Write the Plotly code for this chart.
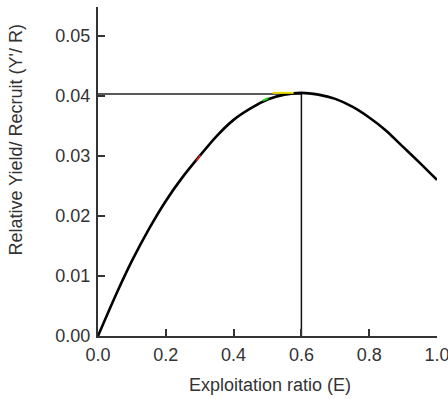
import plotly.graph_objects as go

# Data
E = [0.0, 0.05, 0.1, 0.15, 0.2, 0.25, 0.3, 0.35, 0.4, 0.45, 0.5,
     0.55, 0.6, 0.65, 0.7, 0.75, 0.8, 0.85, 0.9, 0.95, 1.0]
YR = [0.0, 0.0065, 0.0125, 0.0178, 0.0225, 0.0265, 0.0300, 0.0333, 0.0360, 0.0379, 0.0394,
      0.0402, 0.0405, 0.0402, 0.0395, 0.0382, 0.0364, 0.0342, 0.0315, 0.0288, 0.0260]

E_max = 0.6
Y_max = 0.0403

# small coloured highlight marks on the curve
red_x, red_y = [0.290, 0.302], [0.0292, 0.0301]
green_x, green_y = [0.486, 0.502], [0.0392, 0.0396]
yellow_x, yellow_y = [0.515, 0.577], [0.0405, 0.0405]

x_ticks = [0.0, 0.2, 0.4, 0.6, 0.8, 1.0]
x_tick_text = ["0.0", "0.2", "0.4", "0.6", "0.8", "1.0"]
y_ticks = [0.0, 0.01, 0.02, 0.03, 0.04, 0.05]
y_tick_text = ["0.00", "0.01", "0.02", "0.03", "0.04", "0.05"]

fig = go.Figure()

# reference lines
fig.add_trace(go.Scatter(x=[0, E_max], y=[Y_max, Y_max], mode="lines",
                         line=dict(color="#222222", width=1.5), hoverinfo="skip"))
fig.add_trace(go.Scatter(x=[E_max, E_max], y=[0, Y_max], mode="lines",
                         line=dict(color="#111111", width=1.5), hoverinfo="skip"))

# curve
fig.add_trace(go.Scatter(x=E, y=YR, mode="lines", line=dict(color="black", width=2.6,
                         shape="spline", smoothing=0.6)))

fig.add_trace(go.Scatter(x=red_x, y=red_y, mode="lines", line=dict(color="#e02020", width=1.5)))
fig.add_trace(go.Scatter(x=green_x, y=green_y, mode="lines", line=dict(color="#20d020", width=2)))
fig.add_trace(go.Scatter(x=yellow_x, y=yellow_y, mode="lines", line=dict(color="#e8e000", width=2)))

font = dict(family="Liberation Sans, Arial, sans-serif", size=18, color="#333333")

fig.update_layout(
    width=448, height=399,
    margin=dict(l=97.5, r=11, t=7, b=63, autoexpand=False),
    paper_bgcolor="white", plot_bgcolor="white",
    showlegend=False,
    font=font,
    xaxis=dict(range=[0, 1.0], tickvals=x_ticks, ticktext=x_tick_text,
               showgrid=False, zeroline=False, showline=True, linecolor="#333333",
               linewidth=2, ticks="inside", ticklen=7, tickwidth=1.5, tickcolor="#333333",
               ticklabelstandoff=1, ticklabeloverflow="allow", automargin=False, tickfont=font),
    yaxis=dict(range=[0, 0.0548], tickvals=y_ticks, ticktext=y_tick_text,
               showgrid=False, zeroline=False, showline=True, linecolor="#333333",
               linewidth=2, ticks="inside", ticklen=7, tickwidth=1.5, tickcolor="#333333",
               ticklabelstandoff=2, ticklabeloverflow="allow", automargin=False, tickfont=font),
    annotations=[
        dict(text="Exploitation ratio (E)", xref="paper", yref="paper",
             x=(270 - 97.5) / 339.5, y=(336 - 385) / 329, xanchor="center", yanchor="middle",
             showarrow=False, font=font),
        dict(text="Relative Yield/ Recruit (Y'/ R)", xref="paper", yref="paper",
             x=(15 - 97.5) / 339.5, y=(336 - 140) / 329, xanchor="center", yanchor="middle",
             textangle=-90, showarrow=False, font=font),
    ],
)

fig.write_html("out.html")
